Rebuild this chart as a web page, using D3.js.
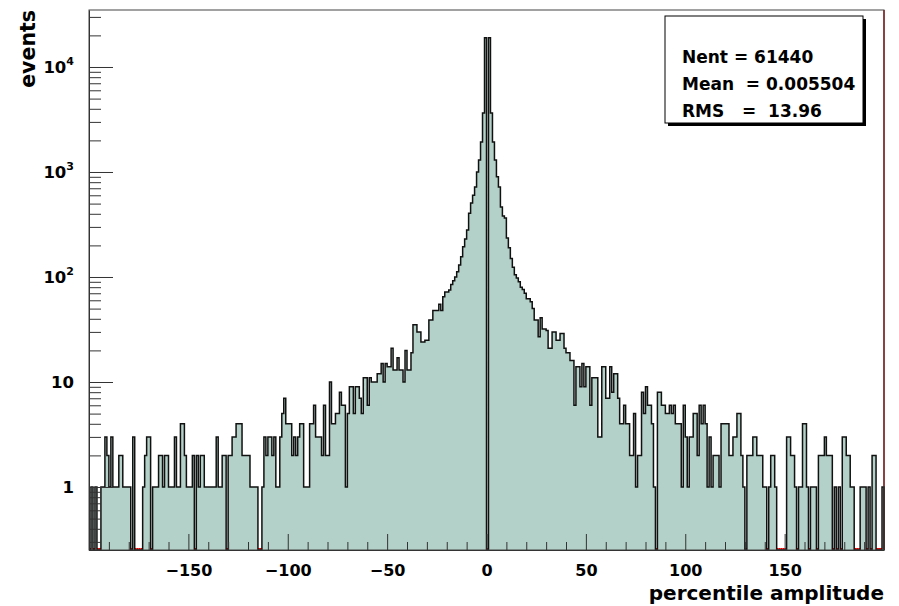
<!DOCTYPE html>
<html>
<head>
<meta charset="utf-8">
<script src="https://cdn.jsdelivr.net/npm/d3@7"></script>
<style>
  body { margin: 0; background: #fff; }
  svg text { font-family: "DejaVu Sans", sans-serif; font-weight: bold; fill: #000; }
</style>
</head>
<body>
<div id="chart"></div>
<script>
// histogram: 400 bins of width 1 from -200 to 200, counts
const binLow = -200;
const binWidth = 1;
const counts = [
  0, 1, 0, 1, 0, 0, 1, 1, 3, 2, 1, 3, 1, 1, 1, 2, 2, 1, 1, 1,
  1, 0, 3, 0, 0, 0, 0, 1, 2, 3, 3, 0, 1, 1, 1, 2, 2, 1, 2, 2,
  1, 1, 1, 3, 1, 1, 4, 4, 2, 1, 1, 1, 2, 0, 2, 1, 2, 2, 1, 1,
  1, 1, 1, 1, 3, 1, 1, 2, 2, 0, 2, 2, 3, 3, 4, 4, 4, 2, 2, 2,
  2, 1, 1, 1, 1, 0, 0, 1, 3, 2, 3, 3, 2, 3, 1, 1, 3, 5, 7, 4,
  4, 4, 2, 3, 2, 3, 4, 4, 1, 1, 1, 4, 4, 6, 3, 3, 3, 2, 6, 2,
  2, 10, 4, 4, 5, 5, 8, 6, 6, 1, 5, 9, 9, 5, 9, 9, 7, 5, 11, 11,
  6, 11, 10, 10, 10, 12, 12, 15, 10, 15, 14, 14, 21, 13, 13, 17, 13, 13, 10, 20,
  13, 13, 19, 35, 35, 30, 30, 24, 24, 25, 25, 39, 39, 48, 48, 48, 55, 48, 65, 72,
  72, 75, 85, 92, 100, 112, 130, 156, 194, 230, 280, 405, 507, 600, 720, 1000, 1300, 1930, 3640, 19000,
  0, 19000, 3640, 1930, 1300, 900, 720, 465, 380, 365, 235, 190, 150, 124, 105, 98, 90, 80, 76, 70,
  62, 62, 58, 50, 39, 39, 27, 41, 32, 32, 31, 21, 21, 30, 30, 25, 25, 29, 29, 21,
  19, 19, 16, 16, 6, 14, 14, 9, 15, 9, 14, 14, 6, 11, 11, 11, 3, 3, 14, 14,
  7, 7, 14, 8, 12, 12, 7, 4, 4, 6, 4, 4, 2, 2, 5, 1, 2, 2, 8, 5,
  9, 6, 6, 4, 1, 0, 8, 8, 6, 6, 5, 5, 6, 5, 6, 4, 4, 4, 1, 6,
  3, 1, 3, 3, 5, 5, 2, 6, 4, 6, 4, 1, 3, 1, 2, 2, 2, 1, 4, 4,
  4, 4, 2, 2, 3, 3, 5, 5, 2, 1, 0, 2, 2, 2, 3, 3, 2, 2, 2, 1,
  1, 0, 1, 2, 2, 1, 0, 0, 0, 0, 0, 3, 3, 2, 2, 1, 0, 1, 1, 4,
  4, 1, 0, 1, 1, 1, 0, 2, 2, 2, 3, 2, 2, 2, 0, 1, 0, 1, 0, 3,
  3, 2, 2, 1, 1, 0, 0, 0, 1, 1, 1, 0, 1, 0, 2, 2, 0, 0, 0, 1
];

const xMajorTicks = [-150, -100, -50, 0, 50, 100, 150];
const yMajorTicks = [1, 10, 100, 1000, 10000];
const yTickBase = ["1", "10", "10", "10", "10"];
const yTickExp = ["", "", "2", "3", "4"];
const statsLines = ["Nent = 61440", "Mean  = 0.005504", "RMS   =  13.96"];
const xTitle = "percentile amplitude";
const yTitle = "events";

const width = 899,
  height = 606;
const padL = 89, padR = 884, padT = 10, padB = 550;
const yMin = 0.2512, yMax = 34900;

const svg = d3.select("#chart").append("svg").attr("width", width).attr("height", height);

const x = d3.scaleLinear().domain([binLow, binLow + counts.length * binWidth]).range([padL, padR]);
const y = d3.scaleLog().domain([yMin, yMax]).range([padB, padT]);

const bins = counts.map((c, i) => ({ x0: binLow + i * binWidth, c: c }));
const level = c => y(Math.max(c, yMin));

// step points, closed by the upper edge of the last bin
const steps = bins.concat([{ x0: binLow + counts.length * binWidth, c: counts[counts.length - 1] }]);

const area = d3.area()
  .curve(d3.curveStepAfter)
  .x(d => x(d.x0))
  .y0(padB)
  .y1(d => level(d.c));

svg.append("path")
  .datum(steps)
  .attr("d", area)
  .attr("fill", "#b3d1c8")
  .attr("stroke", "none");

// empty bins are marked in red along the bottom, plus the red edge line at the right
svg.append("g")
  .selectAll("line")
  .data(bins.filter(d => d.c === 0))
  .join("line")
  .attr("x1", d => x(d.x0))
  .attr("x2", d => x(d.x0 + binWidth))
  .attr("y1", padB - 1)
  .attr("y2", padB - 1)
  .attr("stroke", "#e00000")
  .attr("stroke-width", 2);

svg.append("line")
  .attr("x1", padR).attr("x2", padR)
  .attr("y1", padT).attr("y2", padB)
  .attr("stroke", "#c00000")
  .attr("stroke-width", 1.5);

const outline = d3.line()
  .curve(d3.curveStepAfter)
  .x(d => x(d.x0))
  .y(d => level(d.c));

const outlinePts = [{ x0: binLow, c: 0 }].concat(steps, [{ x0: binLow + counts.length * binWidth, c: 0 }]);

svg.append("path")
  .datum(outlinePts)
  .attr("d", outline)
  .attr("fill", "none")
  .attr("stroke", "#111")
  .attr("stroke-width", 1.5);

// frame
svg.append("rect")
  .attr("x", padL).attr("y", padT)
  .attr("width", padR - padL).attr("height", padB - padT)
  .attr("fill", "none")
  .attr("stroke", "#444")
  .attr("stroke-width", 1);

// x axis: major and minor ticks pointing inward
const xMinor = d3.range(-190, 200, 10).filter(v => v % 50 !== 0);

const gxMinor = svg.append("g")
  .attr("transform", `translate(0,${padB})`)
  .call(d3.axisBottom(x).tickValues(xMinor).tickSize(-8).tickFormat(""));
gxMinor.select(".domain").remove();

const gx = svg.append("g")
  .attr("transform", `translate(0,${padB})`)
  .call(d3.axisBottom(x).tickValues(xMajorTicks).tickSize(-16).tickSizeOuter(0));
gx.select(".domain").attr("stroke", "#333");
gx.selectAll("line").attr("stroke", "#333");
gxMinor.selectAll("line").attr("stroke", "#333");
gx.selectAll("text")
  .attr("y", 26)
  .attr("dy", null)
  .attr("font-size", 16)
  .attr("font-family", null);

// y axis: log decades with minor ticks
const yMinor = [];
[0.1, 1, 10, 100, 1000, 10000].forEach(dec => {
  for (let k = 2; k <= 9; k++) {
    const v = dec * k;
    if (v >= yMin && v <= yMax) yMinor.push(v);
  }
});

const gyMinor = svg.append("g")
  .attr("transform", `translate(${padL},0)`)
  .call(d3.axisLeft(y).tickValues(yMinor).tickSize(-12).tickFormat(""));
gyMinor.select(".domain").remove();
gyMinor.selectAll("line").attr("stroke", "#333");

const gy = svg.append("g")
  .attr("transform", `translate(${padL},0)`)
  .call(d3.axisLeft(y).tickValues(yMajorTicks).tickSize(-24).tickSizeOuter(0).tickFormat(""));
gy.select(".domain").attr("stroke", "#333");
gy.selectAll("line").attr("stroke", "#333");

const yLab = svg.append("g")
  .selectAll("text")
  .data(yMajorTicks)
  .join("text")
  .attr("x", 74)
  .attr("y", d => y(d) + 6)
  .attr("text-anchor", "end")
  .attr("font-size", 16.5);
yLab.append("tspan").text((d, i) => yTickBase[i]);
yLab.append("tspan")
  .attr("dy", -8)
  .attr("font-size", 11)
  .text((d, i) => yTickExp[i]);

// axis titles
svg.append("text")
  .attr("x", padR)
  .attr("y", 600)
  .attr("text-anchor", "end")
  .attr("font-size", 20)
  .text(xTitle);

svg.append("text")
  .attr("transform", `translate(35,${padT}) rotate(-90)`)
  .attr("text-anchor", "end")
  .attr("font-size", 20.5)
  .text(yTitle);

// stats box with shadow
const box = { x: 665, y: 16, w: 198, h: 107 };
svg.append("rect")
  .attr("x", box.x + 3).attr("y", box.y + 3)
  .attr("width", box.w).attr("height", box.h)
  .attr("fill", "#000");
svg.append("rect")
  .attr("x", box.x).attr("y", box.y)
  .attr("width", box.w).attr("height", box.h)
  .attr("fill", "#fff")
  .attr("stroke", "#000")
  .attr("stroke-width", 1);

svg.append("g")
  .selectAll("text")
  .data(statsLines)
  .join("text")
  .attr("x", 682)
  .attr("y", (d, i) => 63 + i * 27)
  .attr("font-size", 17)
  .style("white-space", "pre")
  .text(d => d);
</script>
</body>
</html>
